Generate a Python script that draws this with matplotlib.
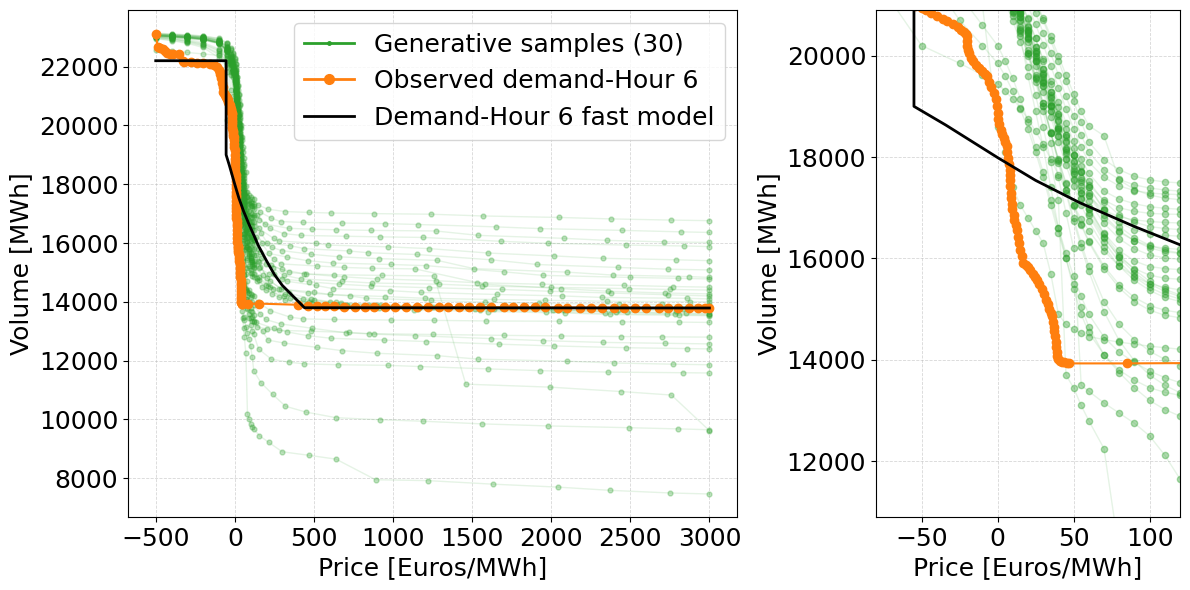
import matplotlib
matplotlib.use('Agg')
import matplotlib.pyplot as plt
from matplotlib.lines import Line2D
from matplotlib.ticker import MultipleLocator

# Prices shared by all generative samples up to 120 Euros/MWh
head_prices = [-500, -400, -300, -200, -100, -50, -25, -10,
               0, 5, 10, 15, 20, 25, 30, 35, 40, 45, 50, 55, 60,
               70, 80, 90, 100, 110, 120]

# Tail prices of each sample (12 per sample, above 120 Euros/MWh)
tail_prices = [
    [145, 210, 320, 470, 610, 880, 1240, 1570, 2050, 2380, 2760, 3000],
    [160, 230, 290, 430, 680, 950, 1160, 1650, 1930, 2450, 2820, 3000],
    [140, 190, 340, 490, 640, 860, 1270, 1540, 2080, 2350, 2710, 3000],
    [155, 220, 310, 420, 700, 920, 1190, 1680, 1980, 2470, 2840, 3000],
    [150, 245, 280, 510, 590, 970, 1230, 1600, 2020, 2330, 2790, 3000],
    [165, 205, 350, 440, 720, 840, 1150, 1620, 1910, 2420, 2740, 3000],
    [135, 235, 300, 480, 660, 910, 1280, 1510, 2100, 2390, 2870, 3000],
    [170, 215, 330, 460, 620, 990, 1210, 1700, 1950, 2500, 2800, 3000],
    [145, 250, 290, 520, 690, 870, 1140, 1580, 2060, 2360, 2720, 3000],
    [160, 200, 340, 450, 630, 930, 1260, 1460, 1990, 2440, 2760, 3000],
    [150, 225, 310, 500, 670, 890, 1170, 1640, 2040, 2410, 2850, 3000],
    [140, 240, 280, 470, 710, 960, 1220, 1550, 1970, 2340, 2780, 3000],
    [175, 210, 320, 430, 600, 850, 1250, 1690, 2010, 2480, 2730, 3000],
    [155, 195, 350, 490, 650, 940, 1130, 1600, 2090, 2370, 2810, 3000],
    [135, 230, 300, 440, 690, 900, 1270, 1530, 1940, 2460, 2770, 3000],
    [165, 250, 330, 510, 620, 980, 1180, 1660, 2070, 2320, 2860, 3000],
    [145, 205, 290, 460, 730, 830, 1240, 1580, 1920, 2430, 2700, 3000],
    [160, 220, 340, 480, 640, 920, 1150, 1710, 2030, 2390, 2830, 3000],
    [150, 240, 310, 420, 680, 870, 1290, 1560, 2000, 2490, 2750, 3000],
    [140, 200, 280, 500, 600, 950, 1200, 1640, 1960, 2350, 2880, 3000],
    [170, 235, 320, 450, 710, 910, 1160, 1520, 2080, 2420, 2790, 3000],
    [155, 215, 300, 470, 660, 860, 1230, 1690, 1990, 2380, 2740, 3000],
    [145, 225, 350, 430, 630, 990, 1260, 1590, 2050, 2450, 2810, 3000],
    [160, 195, 290, 490, 700, 880, 1140, 1620, 1950, 2330, 2720, 3000],
    [135, 245, 330, 460, 610, 940, 1210, 1670, 2020, 2470, 2860, 3000],
    [175, 210, 310, 520, 680, 900, 1280, 1540, 2100, 2400, 2770, 3000],
    [150, 230, 340, 440, 650, 970, 1170, 1600, 1930, 2360, 2830, 3000],
    [140, 205, 280, 480, 720, 850, 1250, 1700, 2060, 2440, 2700, 3000],
    [165, 240, 320, 450, 640, 920, 1190, 1560, 1980, 2490, 2800, 3000],
    [155, 215, 300, 470, 640, 890, 1220, 1630, 2040, 2370, 2750, 3000],
]

# 30 generative samples, volume [MWh] at head_prices followed by tail_prices
samples = [
    [23120, 23100, 23080, 23040, 22950, 22800, 22620, 22450, 22300, 22100, 21900, 21650, 21350, 21050, 20700, 20300, 19900, 19500, 19100, 18700, 18300, 17950, 17750, 17620, 17550, 17510, 17490, 17300, 17150, 17070, 17040, 17020, 17000, 16980, 16920, 16870, 16820, 16780, 16760],
    [23100, 23080, 23050, 23010, 22920, 22760, 22550, 22360, 22180, 21980, 21760, 21500, 21200, 20850, 20450, 20050, 19620, 19200, 18800, 18430, 18100, 17750, 17560, 17450, 17390, 17350, 17330, 17050, 16850, 16730, 16700, 16680, 16660, 16630, 16550, 16490, 16430, 16380, 16360],
    [23080, 23060, 23030, 22990, 22880, 22690, 22440, 22220, 22020, 21820, 21580, 21300, 20980, 20620, 20220, 19800, 19370, 18950, 18560, 18200, 17900, 17600, 17430, 17340, 17290, 17270, 17260, 16950, 16650, 16500, 16470, 16450, 16430, 16410, 16260, 16160, 16090, 16040, 16020],
    [23140, 23110, 23080, 23040, 22960, 22810, 22600, 22420, 22260, 22080, 21880, 21650, 21380, 21080, 20740, 20380, 20000, 19620, 19250, 18900, 18620, 18420, 17550, 17360, 17250, 17190, 17160, 16800, 16500, 16320, 16260, 16230, 16210, 16190, 16060, 15990, 15930, 15900, 15880],
    [23000, 22950, 22880, 22780, 22560, 22300, 22100, 21980, 21850, 21620, 21360, 21060, 20720, 20340, 19930, 19500, 19080, 18680, 18310, 17970, 17680, 17330, 17170, 17080, 17020, 16990, 16970, 16500, 16160, 16070, 15990, 15930, 15870, 15810, 15660, 15560, 15480, 15430, 15400],
    [23070, 23040, 23000, 22950, 22820, 22580, 22240, 21960, 21700, 21450, 21170, 20850, 20490, 20090, 19660, 19220, 18800, 18400, 18040, 17720, 17450, 17150, 17000, 16930, 16890, 16875, 16870, 16350, 16000, 15910, 15810, 15730, 15670, 15610, 15430, 15270, 15170, 15110, 15085],
    [23050, 23020, 22980, 22920, 22780, 22520, 22150, 21850, 21580, 21320, 21030, 20700, 20320, 19900, 19460, 19010, 18580, 18180, 17820, 17500, 17230, 16950, 16820, 16760, 16730, 16710, 16700, 16200, 15850, 15740, 15620, 15530, 15470, 15410, 15130, 15010, 14910, 14860, 14830],
    [23110, 23080, 23050, 23000, 22900, 22680, 22380, 22120, 21880, 21650, 21390, 21090, 20740, 20340, 19900, 19440, 18990, 18560, 18170, 17820, 17520, 17120, 16860, 16720, 16630, 16590, 16570, 16000, 15650, 15520, 15400, 15320, 15270, 15230, 15020, 14900, 14830, 14800, 14780],
    [22980, 22930, 22850, 22720, 22450, 22200, 22050, 21900, 21750, 21510, 21240, 20930, 20570, 20170, 19740, 19290, 18850, 18430, 18040, 17700, 17400, 16980, 16710, 16560, 16490, 16455, 16440, 15800, 15450, 15290, 15220, 15170, 15140, 15120, 14600, 14450, 14360, 14300, 14270],
    [23060, 23030, 23000, 22940, 22800, 22550, 22200, 21930, 21680, 21440, 21160, 20840, 20470, 20060, 19620, 19160, 18710, 18290, 17900, 17550, 17250, 16800, 16520, 16350, 16250, 16200, 16180, 15700, 15300, 15000, 14950, 14920, 14900, 14880, 11200, 11100, 10950, 10830, 9620],
    [23100, 23070, 23040, 22990, 22880, 22640, 22300, 22020, 21760, 21500, 21200, 20850, 20450, 20000, 19520, 19030, 18550, 18100, 17680, 17300, 16970, 16430, 16020, 15720, 15500, 15350, 15250, 14850, 14500, 14200, 14050, 13950, 13880, 13820, 13760, 13710, 13660, 13620, 13600],
    [23020, 22980, 22920, 22820, 22600, 22400, 22150, 21900, 21700, 21430, 21120, 20760, 20350, 19890, 19400, 18900, 18420, 17970, 17550, 17180, 16850, 16330, 15930, 15640, 15430, 15290, 15200, 14800, 14450, 14150, 14000, 13900, 13840, 13780, 13720, 13670, 13610, 13570, 13550],
    [23110, 23080, 23050, 23010, 22900, 22680, 22350, 22070, 21810, 21550, 21250, 20900, 20500, 20050, 19570, 19080, 18600, 18150, 17730, 17350, 17020, 16480, 16070, 15780, 15550, 15390, 15280, 14900, 14550, 14250, 14080, 13980, 13900, 13840, 13780, 13720, 13650, 13600, 13580],
    [23060, 23030, 23000, 22950, 22820, 22560, 22210, 21920, 21650, 21370, 21050, 20680, 20260, 19790, 19290, 18790, 18300, 17840, 17420, 17050, 16730, 16230, 15850, 15570, 15370, 15230, 15150, 14750, 14400, 14120, 13960, 13860, 13790, 13730, 13670, 13620, 13570, 13540, 13530],
    [23090, 23060, 23030, 22980, 22870, 22640, 22320, 22050, 21800, 21560, 21280, 20960, 20590, 20180, 19740, 19290, 18850, 18430, 18050, 17710, 17410, 16950, 16630, 16410, 16260, 16160, 16110, 15600, 15250, 15100, 14950, 14850, 14780, 14720, 14650, 14600, 14560, 14520, 14500],
    [22960, 22900, 22820, 22700, 22400, 22100, 21950, 21850, 21750, 21500, 21220, 20890, 20510, 20090, 19640, 19180, 18730, 18310, 17930, 17590, 17290, 16850, 16550, 16350, 16210, 16130, 16100, 15500, 14950, 14700, 14560, 14450, 14380, 14320, 14250, 14200, 14150, 14120, 14100],
    [23050, 23020, 22990, 22930, 22800, 22540, 22190, 21910, 21650, 21390, 21100, 20760, 20370, 19940, 19480, 19010, 18560, 18140, 17760, 17420, 17130, 16690, 16390, 16190, 16070, 16010, 15980, 15400, 14800, 14440, 14300, 14200, 14120, 14050, 13990, 13950, 13920, 13910, 13900],
    [23080, 23050, 23020, 22970, 22850, 22610, 22280, 22000, 21740, 21470, 21170, 20820, 20420, 19970, 19490, 19000, 18520, 18070, 17660, 17300, 16980, 16500, 16160, 15950, 15840, 15800, 15780, 15200, 14700, 14300, 14100, 13980, 13900, 13850, 13800, 13780, 13760, 13755, 13750],
    [23000, 22940, 22870, 22760, 22520, 22350, 22100, 21900, 21700, 21430, 21120, 20760, 20350, 19890, 19400, 18900, 18420, 17970, 17560, 17200, 16890, 16400, 16030, 15800, 15670, 15610, 15590, 15350, 15150, 14900, 14780, 14700, 14640, 14600, 14540, 14490, 14450, 14420, 14400],
    [22950, 22880, 22790, 22650, 22300, 22000, 21800, 21650, 21500, 21210, 20870, 20480, 20030, 19530, 19000, 18470, 17960, 17490, 17060, 16680, 16350, 15850, 15480, 15230, 15070, 14980, 14930, 14700, 14560, 14440, 14330, 14250, 14180, 14120, 14080, 14050, 14020, 14010, 14000],
    [23070, 23040, 23010, 22950, 22820, 22550, 22150, 21840, 21550, 21260, 20920, 20520, 20060, 19550, 19010, 18470, 17950, 17470, 17030, 16650, 16320, 15800, 15420, 15150, 14980, 14880, 14830, 14500, 14270, 14050, 13930, 13860, 13800, 13770, 13740, 13720, 13710, 13705, 13700],
    [22560, 22520, 22480, 22430, 22380, 20200, 19850, 19620, 19450, 19300, 19150, 18960, 18750, 18510, 18250, 17960, 17650, 17350, 17050, 16780, 16550, 16150, 15850, 15650, 15500, 15430, 15380, 15150, 14950, 14780, 14680, 14600, 14540, 14480, 14420, 14360, 14300, 14240, 14200],
    [23000, 22980, 22950, 22900, 22800, 22400, 21700, 21000, 18600, 18100, 17400, 17050, 16800, 16550, 16300, 15700, 14900, 14700, 14600, 14520, 14460, 14400, 14350, 14310, 14270, 14240, 14210, 14000, 13700, 13480, 13420, 13400, 13380, 13370, 13350, 13340, 13320, 13310, 13300],
    [23050, 23020, 22990, 22940, 22820, 22560, 22160, 21820, 21500, 21200, 20880, 20500, 20060, 19580, 19060, 18500, 17930, 17350, 16800, 16300, 15850, 15150, 14700, 14400, 14170, 14010, 13880, 13600, 13400, 13250, 13100, 12950, 12900, 12850, 12750, 12680, 12620, 12590, 12570],
    [23030, 23000, 22970, 22920, 22790, 22300, 21200, 20600, 20200, 19900, 19550, 19150, 18700, 18200, 17700, 17150, 16600, 16100, 15650, 15250, 14900, 14450, 14150, 13950, 13780, 13650, 13550, 13300, 13100, 12980, 12850, 12760, 12700, 12650, 12560, 12500, 12440, 12410, 12400],
    [23060, 23030, 23000, 22950, 22830, 22570, 22180, 21860, 21550, 21260, 20950, 20570, 20120, 19610, 19060, 18480, 17880, 17290, 16730, 16220, 15750, 14950, 14380, 13980, 13700, 13500, 13350, 13000, 12700, 12600, 12450, 12340, 12250, 12170, 12050, 11980, 11920, 11880, 11860],
    [23040, 23010, 22980, 22930, 22810, 22540, 22130, 21790, 21450, 21130, 20790, 20380, 19600, 18900, 18200, 17400, 16600, 16000, 15400, 14900, 14540, 14100, 13750, 13450, 13200, 13020, 12890, 12400, 12050, 11950, 11890, 11860, 11840, 11800, 11720, 11660, 11610, 11590, 11580],
    [23070, 23040, 23010, 22960, 22840, 21800, 20700, 20200, 19850, 19600, 19300, 18950, 18550, 18100, 17600, 17050, 16500, 16000, 15500, 15050, 14650, 14100, 13800, 13600, 13450, 13360, 13300, 13150, 13080, 13030, 13000, 12960, 12920, 12890, 12860, 12840, 12820, 12810, 12800],
    [23050, 23020, 22990, 22940, 22810, 22540, 22140, 21800, 21480, 21170, 20840, 20450, 20000, 19480, 18900, 18270, 17600, 16900, 16200, 13500, 13380, 13150, 12950, 12750, 12500, 12120, 11650, 11250, 10850, 10450, 10250, 10060, 9990, 9940, 9850, 9780, 9720, 9680, 9650],
    [23030, 23000, 22970, 22910, 22780, 22500, 22080, 21730, 21380, 21050, 20690, 20270, 19780, 19220, 18590, 17900, 17150, 13700, 13450, 13100, 12800, 12250, 10200, 10000, 9850, 9750, 9680, 9450, 9220, 8900, 8780, 8650, 7950, 7920, 7800, 7700, 7590, 7500, 7466],
]

# observed demand curve, hour 6
obs_price = [-500, -487, -470, -455, -440, -426, -410, -390, -350, -330, -320, -280, -240, -200,
             -160, -130, -110, -100, -96, -92, -87, -82, -77, -72, -67, -62, -58, -54, -50, -47,
             -44, -40, -36, -33, -29, -26, -24, -22, -21, -20, -20, -20, -19.5, -19, -17.5, -16,
             -14, -12, -10, -8.5, -7, -5.5, -4, -2.5, -1, -0.3, 0, 0.5, 1, 2, 3, 4, 5, 6, 6.5,
             7, 7.5, 8, 8, 8, 8.5, 9, 9, 9.5, 9.5, 10.5, 11, 12, 12.5, 13.5, 14, 15, 16, 17,
             18.5, 20, 21.5, 23, 24.5, 26, 27.5, 29, 30.5, 32, 33, 34, 35, 35.7, 36.4, 37, 37.4,
             37.8, 38.2, 38.5, 38.8, 39, 40, 41, 42.5, 44, 45.5, 47, 85, 150, 400,
             460, 520, 570, 630, 690, 760, 820, 880, 950, 1010, 1080, 1150, 1220, 1290, 1350,
             1420, 1480, 1550, 1620, 1700, 1760, 1830, 1900, 1960, 2040, 2100, 2180, 2250,
             2320, 2400, 2460, 2530, 2600, 2680, 2740, 2800, 2870, 2930, 2970, 3000]
obs_volume = [23110, 22660, 22620, 22590, 22540, 22450, 22440, 22430, 22420, 22200, 22150, 22140,
              22130, 22120, 22100, 22060, 22000, 21900, 21830, 21760, 21600, 21450, 21300, 21150,
              21100, 21050, 21010, 20980, 20940, 20900, 20850, 20780, 20720, 20680, 20620, 20560,
              20510, 20470, 20420, 20380, 20290, 20200, 20120, 20060, 19960, 19900, 19820, 19760,
              19700, 19640, 19590, 19490, 19380, 19270, 19150, 19000, 18870, 18750, 18650, 18540,
              18460, 18380, 18300, 18210, 18100, 17980, 17860, 17750, 17650, 17550, 17420, 17300,
              17200, 17080, 16970, 16860, 16760, 16660, 16570, 16430, 16300, 16170, 16050, 15910,
              15870, 15840, 15770, 15700, 15640, 15580, 15490, 15400, 15300, 15190, 15100, 15000,
              14930, 14860, 14750, 14650, 14560, 14470, 14360, 14250, 14160, 14080, 14010, 13980,
              13960, 13950, 13940, 13930, 13930, 13940, 13900,
              13860, 13850, 13850, 13845, 13840, 13840, 13835, 13835, 13830, 13830, 13830, 13825,
              13825, 13825, 13820, 13820, 13820, 13815, 13815, 13815, 13810, 13810, 13810, 13810,
              13805, 13805, 13805, 13800, 13800, 13800, 13800, 13800, 13795, 13795, 13795, 13795,
              13790, 13790, 13790, 13790]

# fast model demand curve, hour 6
model_price = [-500, -55, -55, -34, 0, 25, 54, 90, 120, 150, 200, 250, 300, 350, 400, 440, 3000]
model_volume = [22200, 22200, 19000, 18630, 17990, 17540, 17100, 16630, 16270, 15900, 15400,
                14930, 14560, 14290, 14020, 13800, 13790]

green = '#2ca02c'
orange = '#ff7f0e'

fig = plt.figure(figsize=(11.9, 5.9), dpi=100)
ax1 = fig.add_axes([0.1076, 0.1237, 0.5118, 0.8593])
ax2 = fig.add_axes([0.7361, 0.1237, 0.2555, 0.8593])

for ax, dot_alpha, dot_size in ((ax1, 0.3, 3.5), (ax2, 0.38, 4.5)):
    for tail, s in zip(tail_prices, samples):
        prices = head_prices + tail
        ax.plot(prices, s, color=green, linewidth=1, alpha=0.12)
        ax.plot(prices, s, color=green, linestyle='none', marker='o',
                markersize=dot_size, alpha=dot_alpha)
    ax.plot(obs_price, obs_volume, color=orange, marker='o', markersize=6, linewidth=1.5)
    ax.plot(model_price, model_volume, color='black', linewidth=2)
    ax.grid(True, linestyle='--', linewidth=0.6, alpha=0.5)
    ax.set_xlabel('Price [Euros/MWh]', fontsize=18)
    ax.set_ylabel('Volume [MWh]', fontsize=18)
    ax.tick_params(labelsize=18)

ax1.xaxis.set_major_locator(MultipleLocator(500))
ax1.yaxis.set_major_locator(MultipleLocator(2000))

ax2.set_xlim(-80, 120)
ax2.set_ylim(10900, 20900)
ax2.xaxis.set_major_locator(MultipleLocator(50))
ax2.yaxis.set_major_locator(MultipleLocator(2000))

handles = [
    Line2D([0], [0], color=green, marker='.', markersize=5, linewidth=2),
    Line2D([0], [0], color=orange, marker='o', markersize=7, linewidth=2),
    Line2D([0], [0], color='black', linewidth=2),
]
labels = ['Generative samples (30)', 'Observed demand-Hour 6', 'Demand-Hour 6 fast model']
ax1.legend(handles, labels, loc='upper right', fontsize=18)

plt.savefig('out.png')
